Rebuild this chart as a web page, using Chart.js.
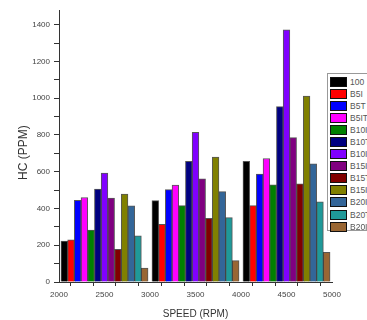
<!DOCTYPE html>
<html>
<head>
  <meta charset="utf-8">
  <title>HC vs Speed</title>
  <style>
    html, body {
      margin: 0;
      padding: 0;
      background: #fff;
      overflow: hidden;
      font-family: 'Liberation Sans', Arial, sans-serif;
    }
    .wrap {
      position: relative;
      width: 367px;
      height: 320px;
      overflow: hidden;
    }
    /* legend box, runs off the right edge like the original */
    .legend {
      position: absolute;
      left: 327px;
      top: 73px;
      width: 60px;
      height: 158px;
      border: 1px solid #999;
      background: #fff;
      box-sizing: border-box;
      padding-top: 3px;
    }
    .legend .item {
      height: 12.06px;
      position: relative;
    }
    .legend .sw {
      position: absolute;
      left: 2px;
      top: 0;
      width: 17px;
      height: 10px;
      border: 1px solid #111;
      box-sizing: border-box;
    }
    .legend .lbl {
      position: absolute;
      left: 22px;
      top: -1px;
      font-size: 8.5px;
      line-height: 12px;
      color: #555;
      white-space: nowrap;
    }
  </style>
</head>
<body>
  <div class="wrap">
    <canvas id="chart" width="367" height="320"></canvas>
    <div class="legend" id="legend"></div>
  </div>

  <script src="https://cdn.jsdelivr.net/npm/chart.js"></script>
  <script>
    // data
    const speeds = [2500, 3500, 4500];
    const seriesNames = ['100', 'B5I', 'B5T', 'B5IT', 'B10I', 'B10T', 'B10IT',
                         'B15I', 'B15T', 'B15IT', 'B20I', 'B20T', 'B20IT'];
    const hc100 = [222, 443, 656];
    const b5i   = [229, 314, 416];
    const b5t   = [445, 503, 587];
    const b5it  = [460, 527, 672];
    const b10i  = [282, 416, 529];
    const b10t  = [505, 656, 954];
    const b10it = [593, 814, 1372];
    const b15i  = [457, 561, 786];
    const b15t  = [178, 347, 534];
    const b15it = [478, 680, 1012];
    const b20i  = [414, 492, 643];
    const b20t  = [251, 350, 436];
    const b20it = [76, 116, 162];
    const seriesValues = [hc100, b5i, b5t, b5it, b10i, b10t, b10it,
                          b15i, b15t, b15it, b20i, b20t, b20it];

    const colors = ['#000000', '#ff0000', '#0000ff', '#ff00ff', '#008000', '#000080',
                    '#8000ff', '#800080', '#800000', '#808000', '#336699', '#1f9999', '#996633'];

    const datasets = seriesNames.map((name, i) => ({
      label: name,
      data: speeds.map((s, j) => ({ x: s, y: seriesValues[i][j] })),
      backgroundColor: colors[i],
      borderColor: 'rgba(30,30,30,0.75)',
      borderWidth: 1,
      barThickness: 6.7,
      borderSkipped: 'bottom'
    }));

    // html legend
    const legend = document.getElementById('legend');
    seriesNames.forEach((name, i) => {
      const item = document.createElement('div');
      item.className = 'item';
      item.innerHTML = `<span class="sw" style="background:${colors[i]}"></span><span class="lbl">${name}</span>`;
      legend.appendChild(item);
    });

    const axisColor = '#333';

    new Chart(document.getElementById('chart').getContext('2d'), {
      type: 'bar',
      data: { datasets },
      options: {
        responsive: false,
        animation: false,
        devicePixelRatio: 1,
        layout: { padding: { top: 10, right: 35, left: 0, bottom: 0 } },
        plugins: {
          legend: { display: false },
          tooltip: { enabled: false }
        },
        scales: {
          x: {
            type: 'linear',
            min: 2000,
            max: 5000,
            offset: false,
            grid: {
              drawOnChartArea: false,
              drawTicks: true,
              tickLength: 4,
              tickColor: axisColor
            },
            border: { display: true, color: axisColor, width: 1 },
            ticks: {
              stepSize: 250,
              autoSkip: false,
              maxRotation: 0,
              padding: 4,
              color: '#444',
              font: { family: 'Liberation Sans', size: 8 },
              callback: v => (v % 500 === 0 ? v : '')
            },
            title: {
              display: true,
              text: 'SPEED (RPM)',
              color: '#333',
              font: { family: 'Liberation Sans', size: 10 },
              padding: { top: 0, bottom: 0 }
            },
            afterFit: s => { s.height = 38; }
          },
          y: {
            min: 0,
            max: 1480,
            grid: {
              drawOnChartArea: false,
              drawTicks: true,
              tickLength: 5,
              tickColor: axisColor
            },
            border: { display: true, color: axisColor, width: 1 },
            afterBuildTicks: s => { s.ticks = s.ticks.filter(t => t.value % 100 === 0); },
            ticks: {
              stepSize: 100,
              autoSkip: false,
              padding: 4,
              color: '#444',
              font: { family: 'Liberation Sans', size: 8 },
              callback: v => (v % 200 === 0 ? v : '')
            },
            title: {
              display: true,
              text: 'HC (PPM)    ',
              color: '#333',
              font: { family: 'Liberation Sans', size: 12 },
              padding: { top: 16, bottom: 0 }
            },
            afterFit: s => { s.width = 59; }
          }
        }
      }
    });
  </script>
</body>
</html>
